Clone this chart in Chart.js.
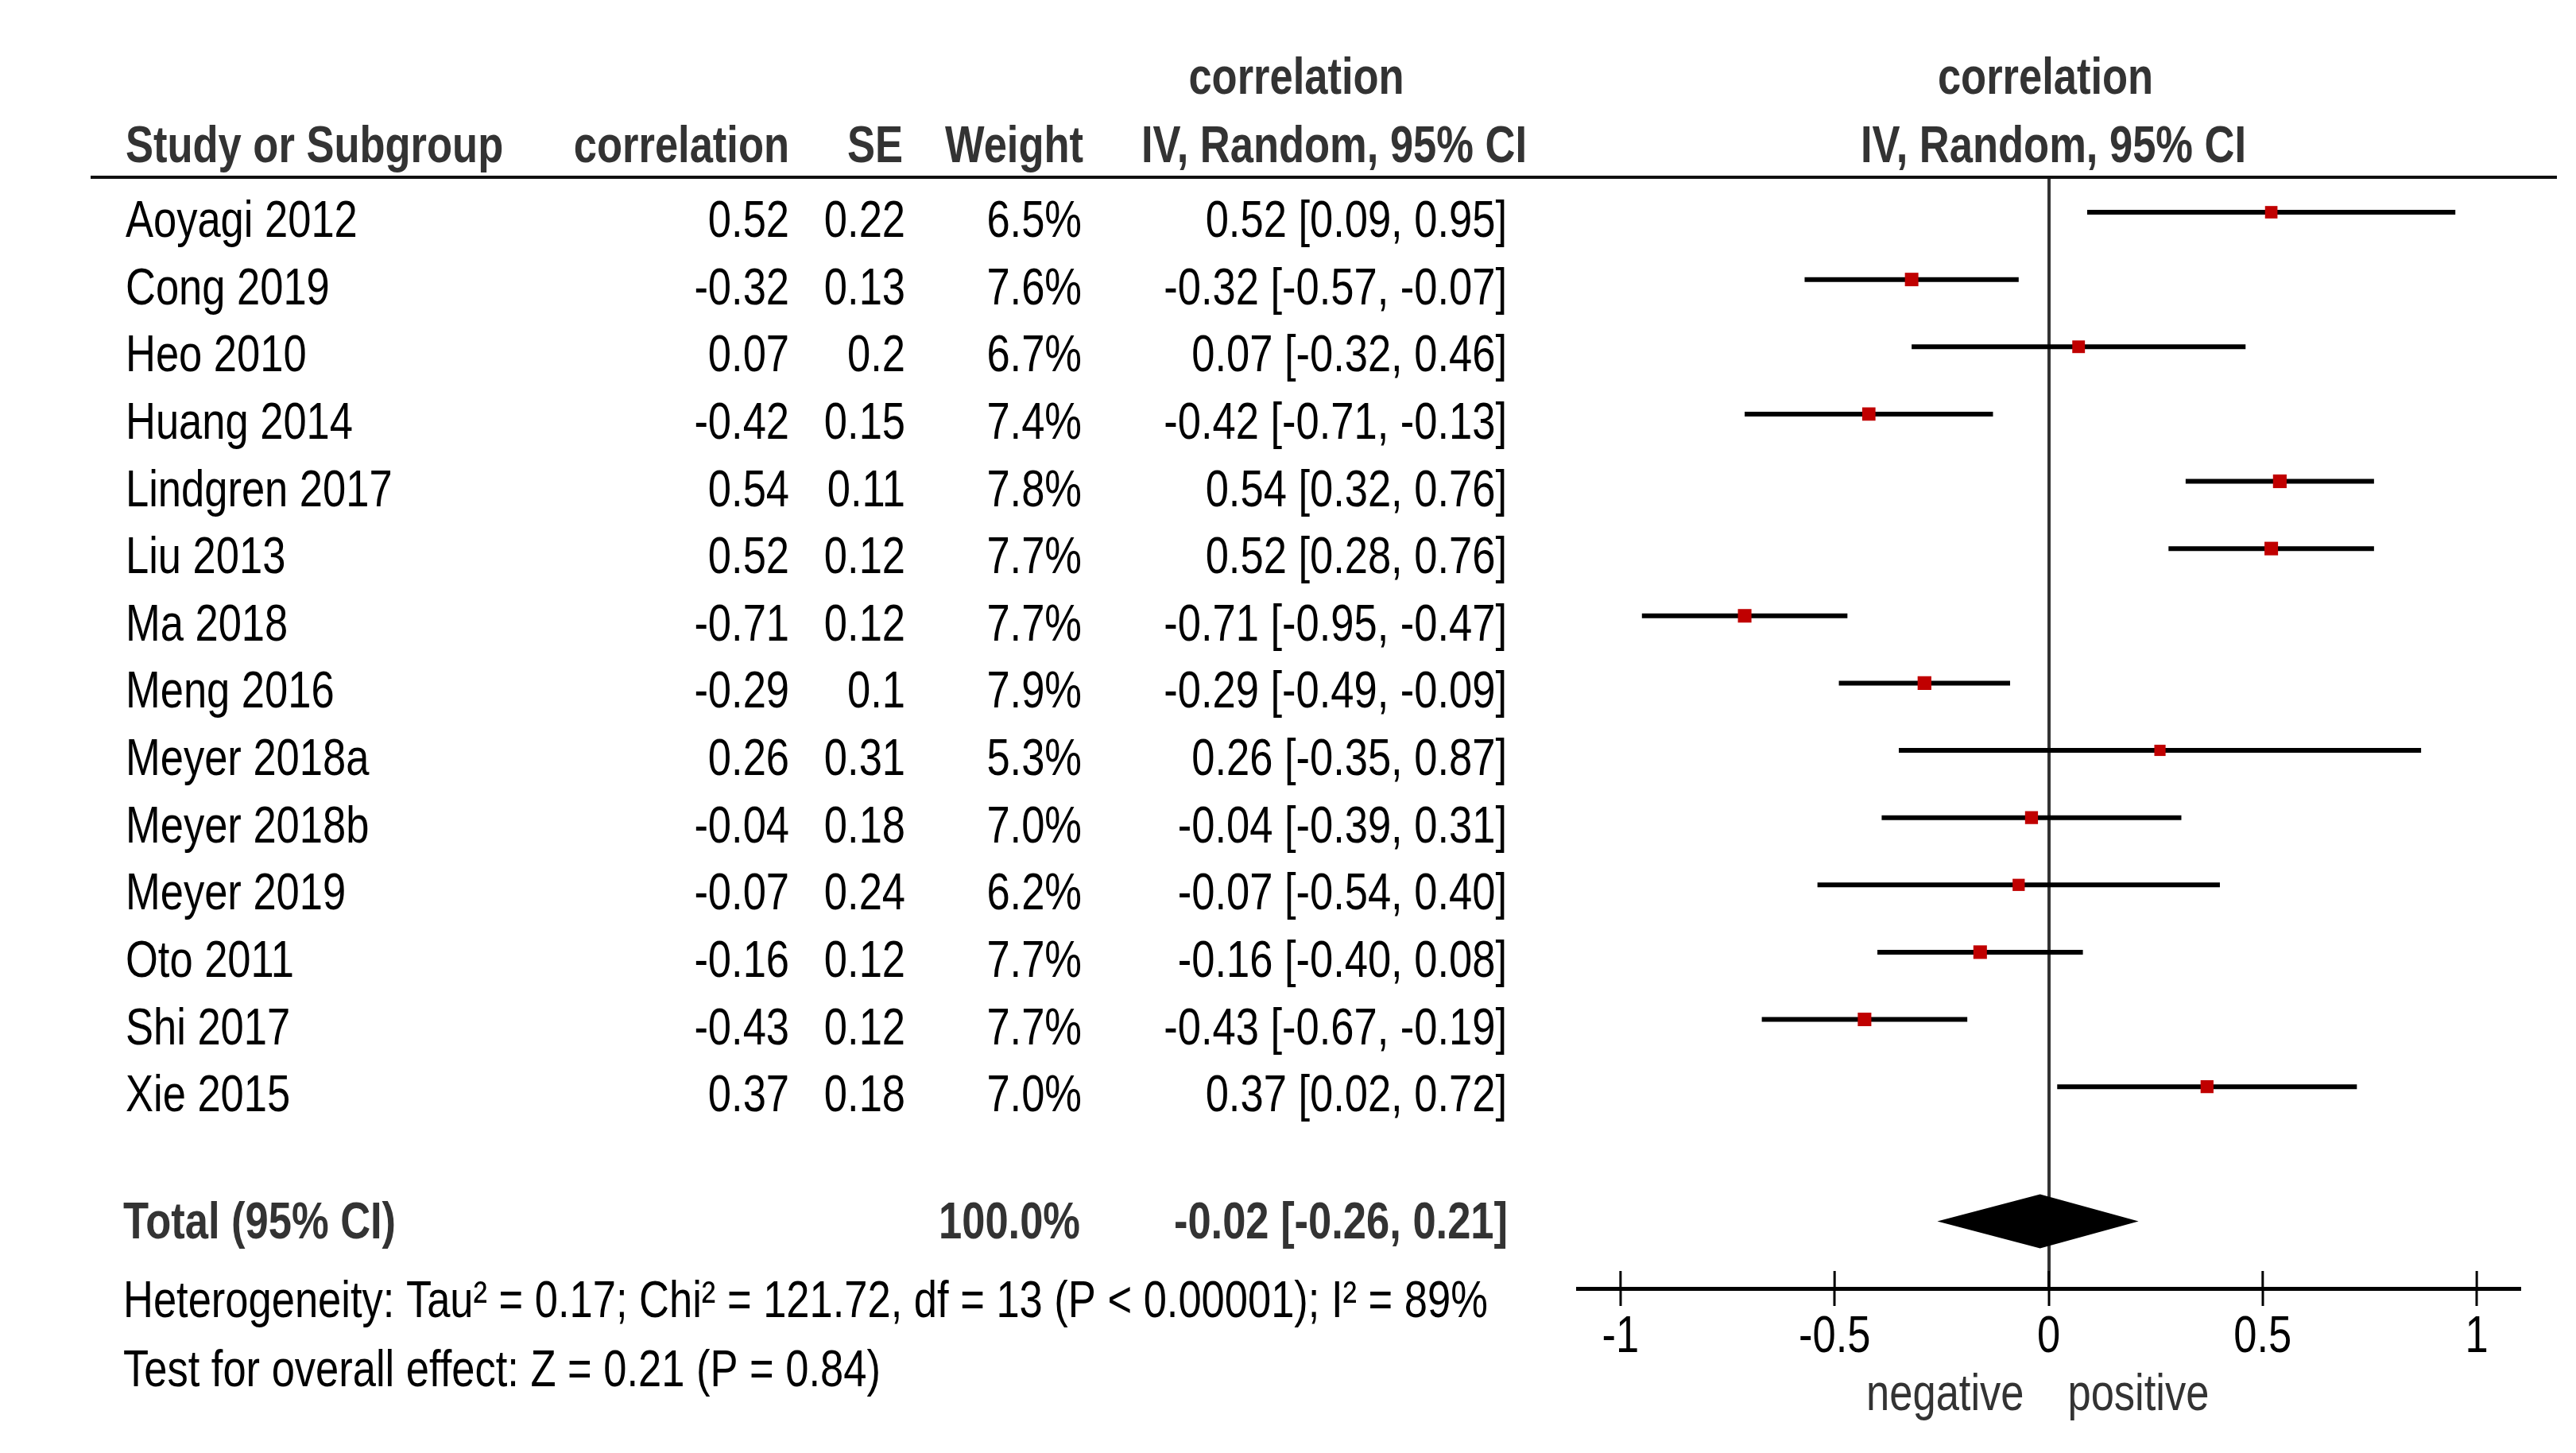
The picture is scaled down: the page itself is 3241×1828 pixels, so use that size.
<!DOCTYPE html>
<html>
<head>
<meta charset="utf-8">
<script src="https://cdn.jsdelivr.net/npm/chart.js@4.4.1/dist/chart.umd.min.js"></script>
<style>
  html,body{margin:0;padding:0;background:#fff;}
  canvas{display:block;}
</style>
</head>
<body>
<canvas id="forest" width="3241" height="1828" style="width:3241px;height:1828px"></canvas>
<script>
const studies = ['Aoyagi 2012','Cong 2019','Heo 2010','Huang 2014','Lindgren 2017','Liu 2013','Ma 2018','Meng 2016','Meyer 2018a','Meyer 2018b','Meyer 2019','Oto 2011','Shi 2017','Xie 2015'];
const corr = [0.52,-0.32,0.07,-0.42,0.54,0.52,-0.71,-0.29,0.26,-0.04,-0.07,-0.16,-0.43,0.37];
const se = [0.22,0.13,0.2,0.15,0.11,0.12,0.12,0.1,0.31,0.18,0.24,0.12,0.12,0.18];
const weight = [6.5,7.6,6.7,7.4,7.8,7.7,7.7,7.9,5.3,7.0,6.2,7.7,7.7,7.0];
const ciLow = [0.09,-0.57,-0.32,-0.71,0.32,0.28,-0.95,-0.49,-0.35,-0.39,-0.54,-0.40,-0.67,0.02];
const ciHigh = [0.95,-0.07,0.46,-0.13,0.76,0.76,-0.47,-0.09,0.87,0.31,0.40,0.08,-0.19,0.72];
const total = {label:'Total (95% CI)', weight:100.0, est:-0.02, lo:-0.26, hi:0.21};
const xTicks = [-1,-0.5,0,0.5,1];
const heterogeneity = 'Heterogeneity: Tau² = 0.17; Chi² = 121.72, df = 13 (P < 0.00001); I² = 89%';
const overall = 'Test for overall effect: Z = 0.21 (P = 0.84)';

// Arial-metric font squeezed horizontally ~ Arial Narrow
const FONT = "'Liberation Sans',Arial,sans-serif";
const SQUEEZE = 0.82;
const totalRow = studies.length + 2;
const f2 = n => n.toFixed(2);
const ciText = (e,l,h) => `${f2(e)} [${f2(l)}, ${f2(h)}]`;

function txt(ctx, s, x, y, align, bold, color){
  ctx.save();
  ctx.font = (bold ? 'bold ' : '') + '64px ' + FONT;
  ctx.textAlign = align; ctx.textBaseline = 'alphabetic';
  ctx.fillStyle = color || '#000';
  ctx.translate(x, y); ctx.scale(SQUEEZE, 1);
  ctx.fillText(s, 0, 0);
  ctx.restore();
}

const forestPlugin = {
  id:'forest',
  beforeDatasetsDraw(chart){
    const {ctx, scales:{x,y}} = chart;
    ctx.save();
    ctx.strokeStyle = '#000'; ctx.lineWidth = 6;
    studies.forEach((s,i)=>{
      const py = y.getPixelForValue(i+1);
      ctx.beginPath(); ctx.moveTo(x.getPixelForValue(ciLow[i]), py); ctx.lineTo(x.getPixelForValue(ciHigh[i]), py); ctx.stroke();
    });
    // pooled diamond
    const dy = y.getPixelForValue(totalRow), h = 34;
    ctx.fillStyle = '#000';
    ctx.beginPath();
    ctx.moveTo(x.getPixelForValue(total.lo), dy);
    ctx.lineTo(x.getPixelForValue(total.est), dy - h);
    ctx.lineTo(x.getPixelForValue(total.hi), dy);
    ctx.lineTo(x.getPixelForValue(total.est), dy + h);
    ctx.closePath(); ctx.fill();
    ctx.restore();
  },
  afterDraw(chart){
    const {ctx, scales:{x,y}, chartArea:ca} = chart;
    ctx.save();
    ctx.strokeStyle = '#111'; ctx.lineWidth = 4;
    ctx.beginPath(); ctx.moveTo(114, ca.top); ctx.lineTo(3217, ca.top); ctx.stroke();
    // tick marks cross the axis, labels below
    ctx.strokeStyle = '#000'; ctx.lineWidth = 3;
    x.ticks.forEach(t=>{
      const px = x.getPixelForValue(t.value);
      ctx.beginPath(); ctx.moveTo(px, ca.bottom - 22); ctx.lineTo(px, ca.bottom); ctx.stroke();
      txt(ctx, String(t.value), px, ca.bottom + 80, 'center');
    });
    ctx.restore();

    const hc = '#333';
    txt(ctx,'correlation',1631,118,'center',true,hc);
    txt(ctx,'Study or Subgroup',158,204,'left',true,hc);
    txt(ctx,'correlation',993,204,'right',true,hc);
    txt(ctx,'SE',1136,204,'right',true,hc);
    txt(ctx,'Weight',1363,204,'right',true,hc);
    txt(ctx,'IV, Random, 95% CI',1921,204,'right',true,hc);
    const zx = x.getPixelForValue(0);
    txt(ctx,'correlation',zx-4,118,'center',true,hc);
    txt(ctx,'IV, Random, 95% CI',zx+6,204,'center',true,hc);

    studies.forEach((s,i)=>{
      const by = y.getPixelForValue(i+1) + 31;
      txt(ctx,s,158,by,'left');
      txt(ctx,f2(corr[i]),993,by,'right');
      txt(ctx,String(se[i]),1139,by,'right');
      txt(ctx,weight[i].toFixed(1)+'%',1361,by,'right');
      txt(ctx,ciText(corr[i],ciLow[i],ciHigh[i]),1896,by,'right');
    });
    const ty = y.getPixelForValue(totalRow) + 22;
    txt(ctx,total.label,155,ty,'left',true,hc);
    txt(ctx,total.weight.toFixed(1)+'%',1359,ty,'right',true,hc);
    txt(ctx,ciText(total.est,total.lo,total.hi),1897,ty,'right',true,hc);
    txt(ctx,heterogeneity,155,1657,'left');
    txt(ctx,overall,155,1744,'left');

    txt(ctx,'negative',zx-31,1774,'right',false,hc);
    txt(ctx,'positive',zx+24,1774,'left',false,hc);
  }
};

new Chart(document.getElementById('forest'), {
  type:'scatter',
  data:{datasets:[{
    data: corr.map((c,i)=>({x:c, y:i+1})),
    pointStyle:'rect',
    pointRadius: weight.map(w=>11.5*Math.sqrt(w/7)),
    backgroundColor:'#c00000', borderWidth:0
  }]},
  options:{
    responsive:false, devicePixelRatio:1, animation:false,
    layout:{padding:{left:1985, right:71, top:223, bottom:87}},
    plugins:{legend:{display:false}, tooltip:{enabled:false}},
    scales:{
      x:{
        type:'linear', min:-1.1, max:1.1,
        afterBuildTicks: s => { s.ticks = xTicks.map(v=>({value:v})); },
        afterFit: s => { s.height = 120; },
        ticks:{display:false},
        grid:{color:c=>c.tick && c.tick.value===0 ? '#333' : 'rgba(0,0,0,0)', lineWidth:4, tickLength:22, tickColor:'#000', tickWidth:3},
        border:{display:true, color:'#000', width:5}
      },
      y:{type:'linear', reverse:true, min:0.48, max:17, display:false}
    }
  },
  plugins:[forestPlugin]
});
</script>
</body>
</html>
